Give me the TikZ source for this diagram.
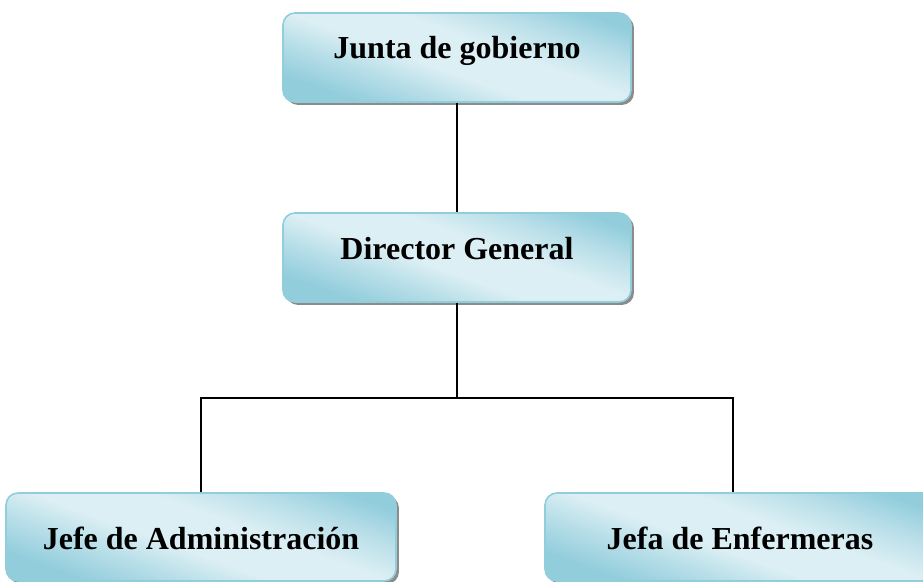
\documentclass[tikz,border=0pt]{standalone}
\usepackage{fontspec}
\setmainfont{Liberation Serif}
\usetikzlibrary{shadows}
\definecolor{cajaborde}{RGB}{146,205,220}
\definecolor{cajaclaro}{RGB}{220,239,244}
\definecolor{sombra}{RGB}{140,140,140}
\pgfdeclareverticalshading{cajasombreada}{100bp}{color(0bp)=(cajaborde); color(26bp)=(cajaborde); color(36bp)=(cajaborde!50!cajaclaro); color(45bp)=(cajaclaro); color(57bp)=(cajaclaro); color(67bp)=(cajaclaro!55!cajaborde); color(77bp)=(cajaborde); color(100bp)=(cajaborde)}
\begin{document}
\begin{tikzpicture}[x = 0.75pt, y = -0.75pt,
	caja/.style = {draw = cajaborde, line width = 1.2pt, rounded corners = 9pt,
		shading = cajasombreada, shading angle = -20,
		drop shadow = {shadow xshift = 2.2pt, shadow yshift = -2.2pt, fill = sombra, opacity = 1},
		font = \fontsize{24}{28}\selectfont\bfseries,
		minimum width = 261pt, minimum height = 66.75pt, text height = 16pt, text depth = 13.75pt},
	cajabaja/.style = {caja, minimum width = 292.5pt, minimum height = 66pt, text height = 18.8pt, text depth = 0pt},
	linea/.style = {line width = 1pt}]
				\useasboundingbox (0,0) rectangle (923,581);
				\clip (0,0) rectangle (923,581);
				
				\node[caja](jg) at (457,57.5) {Junta de gobierno};
				\node[caja](dg) at (457,257.5) {Director General};
				\node[cajabaja](ja) at (201,537) {Jefe de Administración};
				\node[cajabaja](je) at (740,537) {Jefa de Enfermeras};
				
				\coordinate[](bus) at (457,398);
				
				\draw[linea] (jg.south) -- (dg.north);
				\draw[linea] (dg.south) -- (bus);
				\draw[linea] (ja.north) |- (bus) -| ([xshift = -5.25pt]je.north);
				\end{tikzpicture}
\end{document}
